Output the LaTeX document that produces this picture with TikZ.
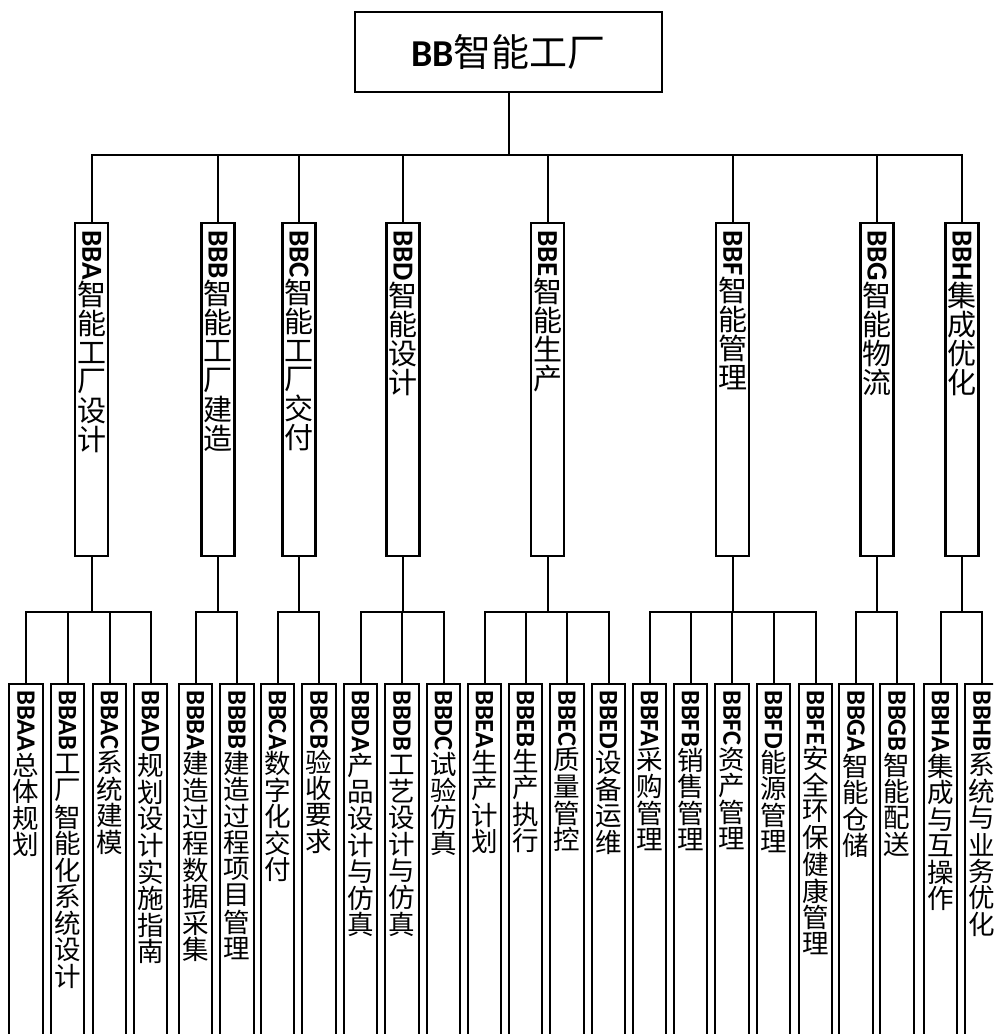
\documentclass[tikz,border=0pt]{standalone}
\usepackage{fontspec}
\usepackage{graphicx}
\setmainfont{Noto Sans CJK SC}
\newfontfamily\lat{Carlito}
\newlength\pitch
\newlength\bw
\def\stk#1{\ifx\relax#1\else\hbox to\bw{\hss\vbox to\pitch{\vss\hbox{#1}\vss}\hss}\expandafter\stk\fi}
\newcommand\vlab[2]{\vbox{\offinterlineskip\hbox to\bw{\hss\rotatebox{-90}{\lat\bfseries #1}\hss}\stk#2\relax}}
\tikzset{
  rootbox/.style={draw, line width=1.6pt, minimum width=230.25pt, minimum height=60pt, inner sep=0pt,
    font=\fontsize{28.5pt}{30pt}\selectfont},
  lonebox/.style={draw, line width=1.6pt, minimum width=24.75pt, minimum height=249.75pt, inner sep=0pt},
  ltwobox/.style={draw, line width=1.6pt, minimum width=25.1pt, minimum height=282pt, inner sep=0pt},
  lonelab/.style={anchor=north, inner sep=0pt,
    font=\fontsize{21.75pt}{22pt}\selectfont\setlength\pitch{21.75pt}\setlength\bw{24pt}},
  ltwolab/.style={anchor=north, inner sep=0pt,
    font=\fontsize{19.9pt}{20pt}\selectfont\setlength\pitch{19.9pt}\setlength\bw{24pt}},
  conn/.style={line width=1.5pt},
}
\newcommand\lone[4]{%
  \node[lonebox] (#1) at (#2,389.5) {};
  \node[lonelab] (#1-t) at ([yshift=-6pt]#1.north) {\vlab{#3}{#4}};
  \draw[conn] (bb.south) -- ++(0,62) -| (#1.north);
}
\newcommand\ltwo[5]{% name, parent, x, latin, cjk
  \node[ltwobox] (#1) at (#3,872) {};
  \node[ltwolab] (#1-t) at ([yshift=-5.25pt]#1.north) {\vlab{#4}{#5}};
  \draw[conn] (#2.south) -- ++(0,55) -| (#1.north);
}
\begin{document}
\begin{tikzpicture}[x=0.75pt,y=-0.75pt]
\useasboundingbox (0,0) rectangle (993,1034);
\fill[white] (0,0) rectangle (993,1034);
\clip (0,0) rectangle (993,1034);
\node[rootbox] (bb) at (508.5,52) {{\lat\bfseries BB}智能工厂};
\lone{bba}{91.7}{BBA}{智能工厂设计}
\lone{bbb}{218}{BBB}{智能工厂建造}
\lone{bbc}{299}{BBC}{智能工厂交付}
\lone{bbd}{403}{BBD}{智能设计}
\lone{bbe}{547.5}{BBE}{智能生产}
\lone{bbf}{732.7}{BBF}{智能管理}
\lone{bbg}{877}{BBG}{智能物流}
\lone{bbh}{962}{BBH}{集成优化}
\ltwo{bbaa}{bba}{26}{BBAA}{总体规划}
\ltwo{bbab}{bba}{67.5}{BBAB}{工厂智能化系统设计}
\ltwo{bbac}{bba}{109.5}{BBAC}{系统建模}
\ltwo{bbad}{bba}{150.5}{BBAD}{规划设计实施指南}
\ltwo{bbba}{bbb}{195.5}{BBBA}{建造过程数据采集}
\ltwo{bbbb}{bbb}{237}{BBBB}{建造过程项目管理}
\ltwo{bbca}{bbc}{277.5}{BBCA}{数字化交付}
\ltwo{bbcb}{bbc}{319}{BBCB}{验收要求}
\ltwo{bbda}{bbd}{360.5}{BBDA}{产品设计与仿真}
\ltwo{bbdb}{bbd}{402}{BBDB}{工艺设计与仿真}
\ltwo{bbdc}{bbd}{443.5}{BBDC}{试验仿真}
\ltwo{bbea}{bbe}{484.5}{BBEA}{生产计划}
\ltwo{bbeb}{bbe}{525.5}{BBEB}{生产执行}
\ltwo{bbec}{bbe}{567}{BBEC}{质量管控}
\ltwo{bbed}{bbe}{608.5}{BBED}{设备运维}
\ltwo{bbfa}{bbf}{649.5}{BBFA}{采购管理}
\ltwo{bbfb}{bbf}{690.5}{BBFB}{销售管理}
\ltwo{bbfc}{bbf}{732}{BBFC}{资产管理}
\ltwo{bbfd}{bbf}{773.5}{BBFD}{能源管理}
\ltwo{bbfe}{bbf}{815.5}{BBFE}{安全环保健康管理}
\ltwo{bbga}{bbg}{856}{BBGA}{智能仓储}
\ltwo{bbgb}{bbg}{897}{BBGB}{智能配送}
\ltwo{bbha}{bbh}{940.5}{BBHA}{集成与互操作}
\ltwo{bbhb}{bbh}{982}{BBHB}{系统与业务优化}
\end{tikzpicture}
\end{document}
